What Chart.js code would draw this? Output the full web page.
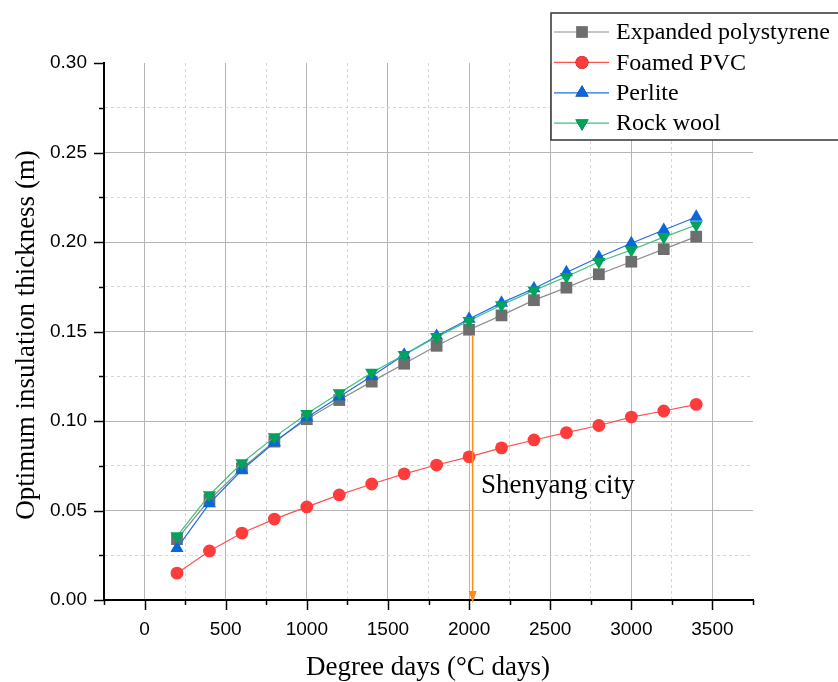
<!DOCTYPE html>
<html>
<head>
<meta charset="utf-8">
<script src="https://cdn.jsdelivr.net/npm/chart.js@4"></script>
<style>
  body { margin: 0; background: #fff; }
  canvas { display: block; }
</style>
</head>
<body>
<canvas id="thicknessChart" width="838" height="682"></canvas>
<script>
// ====== Data ======
const degreeDays = [200, 400, 600, 800, 1000, 1200, 1400, 1600, 1800, 2000, 2200, 2400, 2600, 2800, 3000, 3200, 3400];
const expandedPolystyrene = [0.034, 0.056, 0.0735, 0.0885, 0.101, 0.1117, 0.122, 0.132, 0.142, 0.151, 0.159, 0.1675, 0.1745, 0.182, 0.189, 0.196, 0.203];
const foamedPVC = [0.015, 0.0274, 0.0374, 0.0452, 0.052, 0.0587, 0.0648, 0.0705, 0.0754, 0.080, 0.085, 0.0894, 0.0935, 0.0975, 0.1022, 0.1056, 0.1093];
const perlite = [0.029, 0.054, 0.0726, 0.088, 0.102, 0.1136, 0.125, 0.137, 0.1475, 0.157, 0.166, 0.174, 0.183, 0.1915, 0.1993, 0.2067, 0.214];
const rockWool = [0.0357, 0.0587, 0.0765, 0.091, 0.104, 0.1156, 0.127, 0.137, 0.147, 0.156, 0.1648, 0.173, 0.1806, 0.189, 0.1955, 0.2027, 0.2095];

const seriesNames = ["Expanded polystyrene", "Foamed PVC", "Perlite", "Rock wool"];
const xTickValues = [0, 500, 1000, 1500, 2000, 2500, 3000, 3500];
const yTickValues = [0.00, 0.05, 0.10, 0.15, 0.20, 0.25, 0.30];

// Shenyang city marker
const shenyangX = 2022;
const shenyangY = 0.151;
const shenyangLabel = "Shenyang city";

const serif = "'Liberation Serif', 'Times New Roman', serif";
const sans = "'Liberation Sans', Arial, sans-serif";

function toPoints(values) {
  return values.map((v, i) => ({ x: degreeDays[i], y: v }));
}

function isMajor(v, step) {
  const r = v / step;
  return Math.abs(r - Math.round(r)) < 1e-6;
}

// ====== Styles ======
const styles = [
  { line: "#8c8c8c", fill: "#6e6e6e", point: "rect", radius: 8.3, rotation: 0, order: 2 },
  { line: "#ff5050", fill: "#ff3c3c", point: "circle", radius: 6.4, rotation: 0, order: 3 },
  { line: "#1f6fe0", fill: "#0a66dc", point: "triangle", radius: 7.6, rotation: 0, order: 1 },
  { line: "#3cc07e", fill: "#00a35a", point: "triangle", radius: 7.6, rotation: 180, order: 0 },
];
const seriesValues = [expandedPolystyrene, foamedPVC, perlite, rockWool];

// ====== Custom drawing: ticks, titles, legend, arrow ======
const decorPlugin = {
  id: "decor",
  afterDatasetsDraw(chart) {
    const { ctx, scales } = chart;
    const xs = scales.x, ys = scales.y;
    // Shenyang arrow
    const ax = xs.getPixelForValue(shenyangX);
    const ay = ys.getPixelForValue(shenyangY);
    const by = ys.getPixelForValue(0) + 3;
    ctx.save();
    ctx.strokeStyle = "#ff8c1a";
    ctx.fillStyle = "#ff8c1a";
    ctx.lineWidth = 1.5;
    ctx.beginPath();
    ctx.moveTo(ax, ay + 6);
    ctx.lineTo(ax, by - 10);
    ctx.stroke();
    ctx.beginPath();
    ctx.moveTo(ax - 4, by - 12);
    ctx.lineTo(ax + 4, by - 12);
    ctx.lineTo(ax, by);
    ctx.closePath();
    ctx.fill();
    ctx.restore();
  },
  afterDraw(chart) {
    const { ctx, scales, chartArea } = chart;
    const xs = scales.x, ys = scales.y;
    ctx.save();
    ctx.strokeStyle = "#000";
    ctx.lineWidth = 1.5;
    xs.ticks.forEach((t) => {
      const px = Math.round(xs.getPixelForValue(t.value)) + 0.5;
      const len = isMajor(t.value, 500) ? 10 : 5;
      ctx.beginPath();
      ctx.moveTo(px, chartArea.bottom);
      ctx.lineTo(px, chartArea.bottom + len);
      ctx.stroke();
    });
    ys.ticks.forEach((t) => {
      const py = Math.round(ys.getPixelForValue(t.value)) + 0.5;
      const len = isMajor(t.value, 0.05) ? 10 : 5;
      ctx.beginPath();
      ctx.moveTo(chartArea.left, py);
      ctx.lineTo(chartArea.left - len, py);
      ctx.stroke();
    });

    // Shenyang label
    ctx.fillStyle = "#000";
    ctx.font = "27px " + serif;
    ctx.textAlign = "left";
    ctx.textBaseline = "alphabetic";
    ctx.fillText(shenyangLabel, xs.getPixelForValue(2073), ys.getPixelForValue(0.0598));

    // Axis titles
    ctx.textAlign = "center";
    ctx.fillText("Degree days (\u00B0C days)", 428, 675);
    ctx.save();
    ctx.translate(34, 335);
    ctx.rotate(-Math.PI / 2);
    ctx.fillText("Optimum insulation thickness (m)", 0, 0);
    ctx.restore();

    // Legend
    ctx.fillStyle = "#fff";
    ctx.fillRect(551, 13, 300, 127);
    ctx.strokeStyle = "#333";
    ctx.lineWidth = 1.5;
    ctx.strokeRect(551, 13, 300, 127);
    ctx.font = "24px " + serif;
    ctx.textAlign = "left";
    ctx.textBaseline = "middle";
    seriesNames.forEach((name, i) => {
      const s = styles[i];
      const cy = 32 + i * 30.4;
      ctx.strokeStyle = s.line;
      ctx.lineWidth = 1.2;
      ctx.beginPath();
      ctx.moveTo(554, cy);
      ctx.lineTo(609, cy);
      ctx.stroke();
      Chart.helpers.drawPoint(ctx, {
        pointStyle: s.point, radius: s.radius, rotation: s.rotation, borderWidth: 0
      }, 582, cy);
      ctx.fillStyle = s.fill;
      ctx.fill();
      ctx.fillStyle = "#000";
      ctx.fillText(name, 616, cy + 1);
    });
    ctx.restore();
  },
};

// ====== Chart Initialization ======
const ctx = document.getElementById("thicknessChart");
new Chart(ctx, {
  type: "line",
  data: {
    datasets: seriesNames.map((name, i) => ({
      label: name,
      data: toPoints(seriesValues[i]),
      borderColor: styles[i].line,
      backgroundColor: styles[i].fill,
      pointBackgroundColor: styles[i].fill,
      pointBorderWidth: 0,
      pointStyle: styles[i].point,
      pointRadius: styles[i].radius,
      pointRotation: styles[i].rotation,
      borderWidth: 1.2,
      tension: 0,
      order: styles[i].order,
    })),
  },
  options: {
    responsive: false,
    animation: false,
    layout: { padding: { top: 63, right: 85, left: 0, bottom: 0 } },
    plugins: {
      legend: { display: false },
      tooltip: { enabled: false },
    },
    scales: {
      x: {
        type: "linear",
        min: -250,
        max: 3750,
        afterFit: (scale) => { scale.height = 82; },
        ticks: {
          stepSize: 250,
          autoSkip: false,
          maxRotation: 0,
          padding: 18,
          color: "#000",
          font: { family: sans, size: 19 },
          callback: (v) => (xTickValues.includes(v) ? String(v) : ""),
        },
        grid: {
          drawTicks: false,
          color: (c) => {
            const v = c.tick ? c.tick.value : 0;
            if (v <= -250 || v >= 3750) return "rgba(0,0,0,0)";
            return isMajor(v, 500) ? "#b4b4b4" : "#d6d6d6";
          },
          lineWidth: 1,
        },
        border: {
          color: "#000",
          width: 2,
          dash: (c) => (c.tick && !isMajor(c.tick.value, 500) ? [3, 3] : []),
        },
      },
      y: {
        min: 0,
        max: 0.3,
        afterFit: (scale) => { scale.width = 104; },
        ticks: {
          stepSize: 0.025,
          autoSkip: false,
          padding: 17,
          color: "#000",
          font: { family: sans, size: 19 },
          callback: (v) => (yTickValues.some((t) => Math.abs(t - v) < 1e-6) ? v.toFixed(2) : ""),
        },
        grid: {
          drawTicks: false,
          color: (c) => {
            const v = c.tick ? c.tick.value : 0;
            if (v <= 1e-6 || v >= 0.3 - 1e-6) return "rgba(0,0,0,0)";
            return isMajor(v, 0.05) ? "#b4b4b4" : "#d6d6d6";
          },
          lineWidth: 1,
        },
        border: {
          color: "#000",
          width: 2,
          dash: (c) => (c.tick && !isMajor(c.tick.value, 0.05) ? [3, 3] : []),
        },
      },
    },
  },
  plugins: [decorPlugin],
});
</script>
</body>
</html>
